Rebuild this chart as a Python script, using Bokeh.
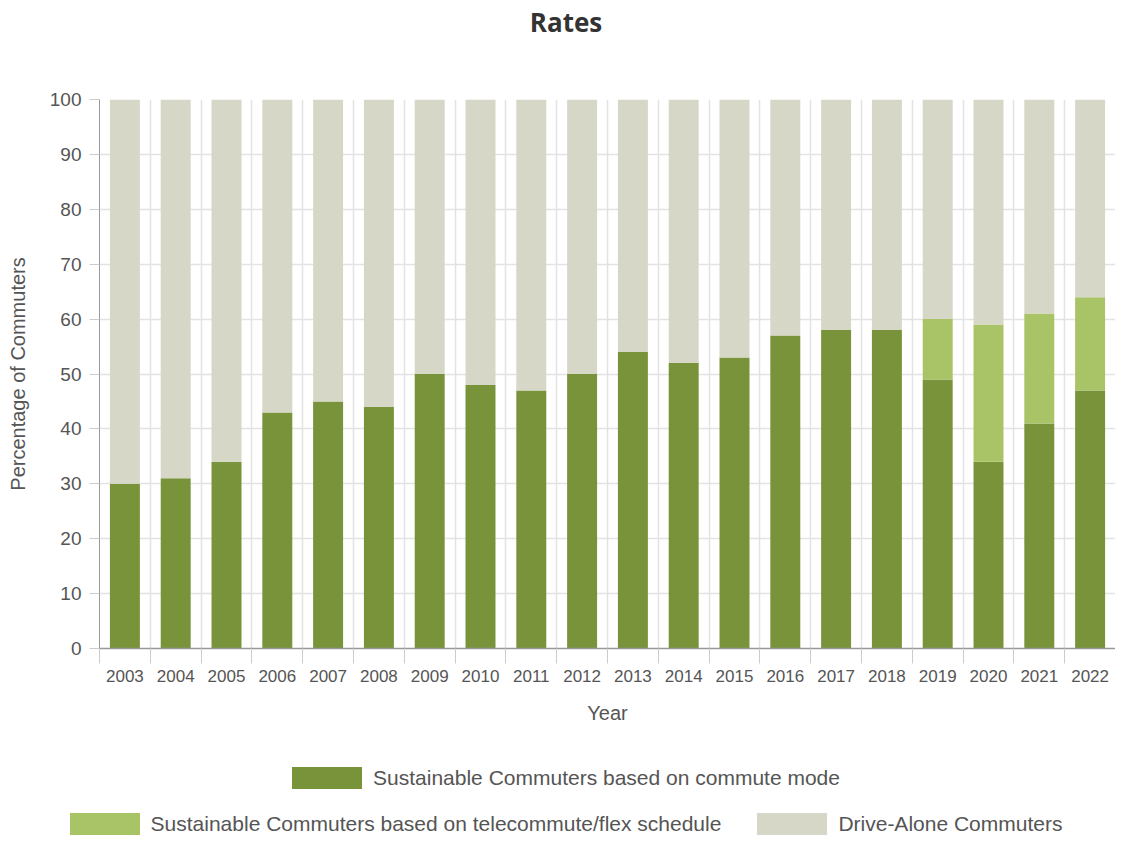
from bokeh.plotting import figure
from bokeh.layouts import column
from bokeh.models import ColumnDataSource, Range1d, FixedTicker, Div
from bokeh.embed import file_html
from bokeh.resources import INLINE

years = ["2003", "2004", "2005", "2006", "2007", "2008", "2009", "2010", "2011", "2012",
         "2013", "2014", "2015", "2016", "2017", "2018", "2019", "2020", "2021", "2022"]
mode_pct = [30, 31, 34, 43, 45, 44, 50, 48, 47, 50, 54, 52, 53, 57, 58, 58, 49, 34, 41, 47]
tele_pct = [0, 0, 0, 0, 0, 0, 0, 0, 0, 0, 0, 0, 0, 0, 0, 0, 11, 25, 20, 17]
drive_pct = [100 - m - t for m, t in zip(mode_pct, tele_pct)]
y_ticks = [0, 10, 20, 30, 40, 50, 60, 70, 80, 90, 100]

chart_title = "Rates"
names = ["Sustainable Commuters based on commute mode",
         "Sustainable Commuters based on telecommute/flex schedule",
         "Drive-Alone Commuters"]
colors = ["#78933a", "#a9c467", "#d7d7c8"]
legend_rows = [[0], [1, 2]]

xs = list(range(len(years)))
source = ColumnDataSource(dict(x=xs, mode=mode_pct, tele=tele_pct, drive=drive_pct))

FONT = "Liberation Sans"
W = 1115

# title strip
title_div = Div(text=(f'<div style="width:{W}px;box-sizing:border-box;padding-left:17px;'
                      "text-align:center;font-family:'Open Sans',sans-serif;font-weight:bold;"
                      f'font-size:26px;color:#333333;line-height:44px;">{chart_title}</div>'),
                width=W, height=44, margin=0)

p = figure(width=W, height=691, output_backend="svg", toolbar_location=None,
           x_range=Range1d(-0.5, len(years) - 0.5), y_range=Range1d(0, 100),
           min_border_left=99, min_border_right=0, min_border_top=55, min_border_bottom=87)
p.outline_line_color = None
p.background_fill_color = "white"
p.border_fill_color = "white"

renderers = p.vbar_stack(["mode", "tele", "drive"], x="x", width=0.59, source=source,
                         color=colors, line_color=None, legend_label=names)
p.legend.visible = False

# x axis: labels at category centres, ticks and grid at category boundaries
boundaries = [i - 0.5 for i in range(len(years) + 1)]
p.xaxis.ticker = FixedTicker(ticks=xs, minor_ticks=boundaries)
p.xaxis.major_label_overrides = {i: y for i, y in enumerate(years)}
p.xaxis.major_tick_out = 0
p.xaxis.major_tick_in = 0
p.xaxis.minor_tick_out = 15
p.xaxis.minor_tick_in = 0
p.xaxis.minor_tick_line_color = "#cccccc"
p.xaxis.axis_line_color = "#999999"
p.xaxis.axis_line_width = 1.5
p.xaxis.major_label_text_font = FONT
p.xaxis.major_label_text_font_size = "17px"
p.xaxis.major_label_text_color = "#555555"
p.xaxis.major_label_standoff = 6
p.xaxis.axis_label = "Year"
p.xaxis.axis_label_text_font = FONT
p.xaxis.axis_label_text_font_size = "20px"
p.xaxis.axis_label_text_font_style = "normal"
p.xaxis.axis_label_text_color = "#555555"
p.xaxis.axis_label_standoff = 17

p.xgrid.grid_line_color = None
p.xgrid.minor_grid_line_color = "#e3e3e3"
p.xgrid.minor_grid_line_width = 1.5

p.yaxis.ticker = FixedTicker(ticks=y_ticks, minor_ticks=[])
p.yaxis.major_tick_out = 10
p.yaxis.major_tick_in = 0
p.yaxis.major_tick_line_color = "#cccccc"
p.yaxis.axis_line_color = "#999999"
p.yaxis.major_label_text_font = FONT
p.yaxis.major_label_text_font_size = "19px"
p.yaxis.major_label_text_color = "#555555"
p.yaxis.major_label_standoff = 8
p.yaxis.axis_label = "Percentage of Commuters"
p.yaxis.axis_label_text_font = FONT
p.yaxis.axis_label_text_font_size = "20px"
p.yaxis.axis_label_text_font_style = "normal"
p.yaxis.axis_label_text_color = "#555555"
p.yaxis.axis_label_standoff = 18
p.ygrid.grid_line_color = "#e3e3e3"
p.ygrid.grid_line_width = 1.5

# legend strip underneath the chart (two centred rows, as in the original)
def legend_item(i):
    return ('<div style="display:flex;align-items:center;height:24px;">'
            f'<span style="display:inline-block;width:70px;height:22px;background:{colors[i]};'
            'margin-right:11px;"></span>'
            f'<span style="white-space:nowrap;">{names[i]}</span></div>')

row_tops = [31, 77]
rows_html = ""
for top, row in zip(row_tops, legend_rows):
    rows_html += (f'<div style="position:absolute;top:{top}px;left:0;width:{W}px;'
                  'box-sizing:border-box;padding-left:17px;display:flex;'
                  'justify-content:center;gap:36px;">'
                  + "".join(legend_item(i) for i in row) + '</div>')

legend_div = Div(text=(f'<div style="position:relative;width:{W}px;height:102px;'
                       f"font-family:'{FONT}',Arial,sans-serif;font-size:21px;"
                       'color:#555555;line-height:24px;">' + rows_html + '</div>'),
                 width=W, height=102, margin=0)

open("out.html", "w").write(file_html(column(title_div, p, legend_div, spacing=0), INLINE))
